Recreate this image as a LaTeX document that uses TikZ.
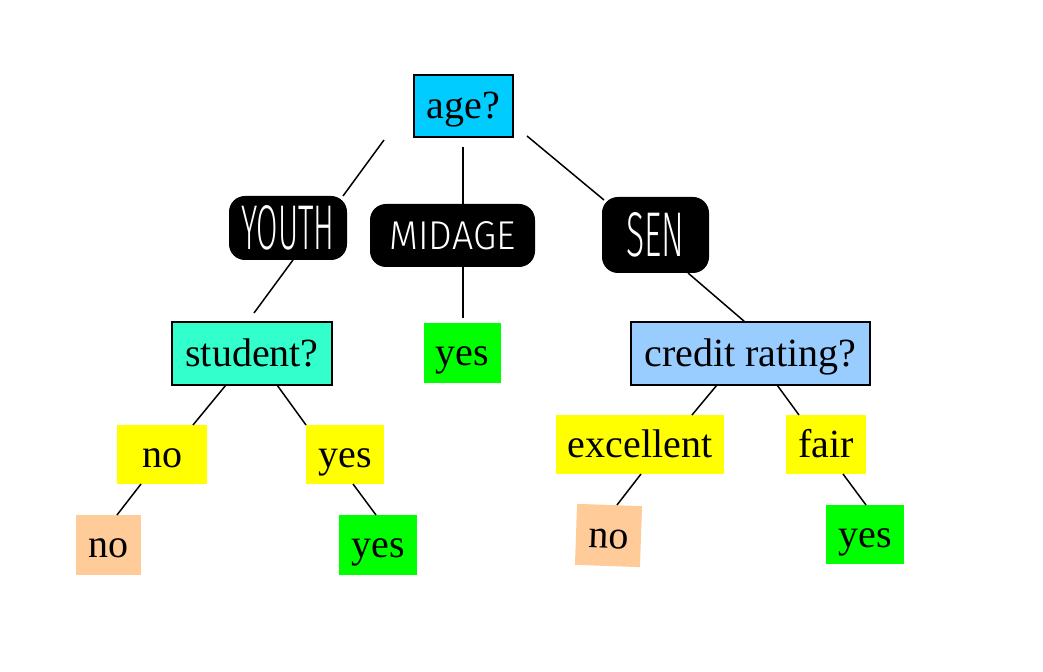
\documentclass[tikz,border=0pt]{standalone}
\usepackage{fontspec}
\setmainfont{Liberation Serif}
\newfontfamily\hand{Fira Sans Light}
\definecolor{agecol}{HTML}{00CCFF}
\definecolor{studcol}{HTML}{33FFCC}
\definecolor{credcol}{HTML}{99CCFF}
\definecolor{yel}{HTML}{FFFF00}
\definecolor{grn}{HTML}{00FF00}
\definecolor{peach}{HTML}{FFCC99}
\tikzset{
  base/.style={inner sep=0pt, font=\fontsize{20}{24}\selectfont, text=black, text height=16pt, text depth=3.2pt},
  qbox/.style={base, draw=black, line width=0.75pt},
  fbox/.style={base, draw=none},
  hbox/.style={fill=black, rounded corners=8pt, inner sep=0pt, text=white, font=\hand},
  edge/.style={line width=0.75pt, black}
}
\begin{document}
\begin{tikzpicture}[x=0.5pt, y=-0.5pt]
\useasboundingbox (0,0) rectangle (1043,672);
\fill[white] (0,0) rectangle (1043,672);
% question boxes
\node[qbox, fill=agecol, minimum width=49.5pt, minimum height=31pt] (age) at (463.5,106) {age?};
\node[qbox, fill=studcol, minimum width=80pt, minimum height=31.5pt] (student) at (252,353.5) {student?};
\node[qbox, fill=credcol, minimum width=119.5pt, minimum height=31.5pt] (credit) at (750.5,353.5) {credit rating?};
% handwritten branch labels
\node[hbox, minimum width=59pt, minimum height=32pt] (youth) at (288,228) {\resizebox{46.5pt}{22pt}{YOUTH}\hspace{5pt}};
\node[hbox, minimum width=82.5pt, minimum height=31.5pt] (midage) at (452.5,235.5) {\resizebox{63pt}{14pt}{MIDAGE}\hspace{7pt}};
\node[hbox, minimum width=53.5pt, minimum height=38pt] (sen) at (655.5,235) {\resizebox{29pt}{22pt}{SEN}\hspace{16.5pt}};
% leaves and value boxes
\node[fbox, fill=grn, minimum width=38.5pt, minimum height=30pt] (yesM) at (462.5,353) {yes};
\node[fbox, fill=yel, minimum width=45pt, minimum height=29.5pt] (noY) at (162,454.5) {no};
\node[fbox, fill=yel, minimum width=39pt, minimum height=29.5pt] (yesY) at (345,454.5) {yes};
\node[fbox, fill=yel, minimum width=84pt, minimum height=29.5pt] (exc) at (640,444.5) {excellent};
\node[fbox, fill=yel, minimum width=40pt, minimum height=29.5pt] (fair) at (826,444.5) {fair};
\node[fbox, fill=peach, minimum width=32.5pt, minimum height=30pt] (noP) at (108.5,545) {no};
\node[fbox, fill=grn, minimum width=39pt, minimum height=30pt] (yesG) at (378,545) {yes};
\node[fbox, fill=peach, minimum width=32.5pt, minimum height=30.5pt, rotate=-2] (noP2) at (608.5,535.5) {no};
\node[fbox, fill=grn, minimum width=39pt, minimum height=29.5pt] (yesG2) at (865,534.5) {yes};
% connectors
\draw[edge] ([shift={(-79.5,34)}]age.center) -- ([shift={(55,-32)}]youth.center);
\draw[edge] ([shift={(-0.5,41)}]age.center) -- ([shift={(10.5,-30.5)}]midage.center);
\draw[edge] ([shift={(63.5,30)}]age.center) -- ([shift={(-51.5,-35)}]sen.center);
\draw[edge] ([shift={(5,32)}]youth.center) -- ([shift={(2,-40.5)}]student.center);
\draw[edge] ([shift={(10.5,31.5)}]midage.center) -- ([shift={(0.5,-35)}]yesM.center);
\draw[edge] ([shift={(32.5,38)}]sen.center) -- ([shift={(-5.5,-31.5)}]credit.center);
\draw[edge] ([shift={(-26,31.5)}]student.center) -- ([shift={(31,-29.5)}]noY.center);
\draw[edge] ([shift={(25,31.5)}]student.center) -- ([shift={(-39,-29.5)}]yesY.center);
\draw[edge] ([shift={(-21,29.5)}]noY.center) -- ([shift={(8.5,-30)}]noP.center);
\draw[edge] ([shift={(8,29.5)}]yesY.center) -- ([shift={(-2,-30)}]yesG.center);
\draw[edge] ([shift={(-33.5,31.5)}]credit.center) -- ([shift={(52,-29.5)}]exc.center);
\draw[edge] ([shift={(26.5,31.5)}]credit.center) -- ([shift={(-27,-29.5)}]fair.center);
\draw[edge] ([shift={(1,29.5)}]exc.center) -- ([shift={(8.5,-30.5)}]noP2.center);
\draw[edge] ([shift={(17,29.5)}]fair.center) -- ([shift={(1,-29.5)}]yesG2.center);
\end{tikzpicture}
\end{document}
